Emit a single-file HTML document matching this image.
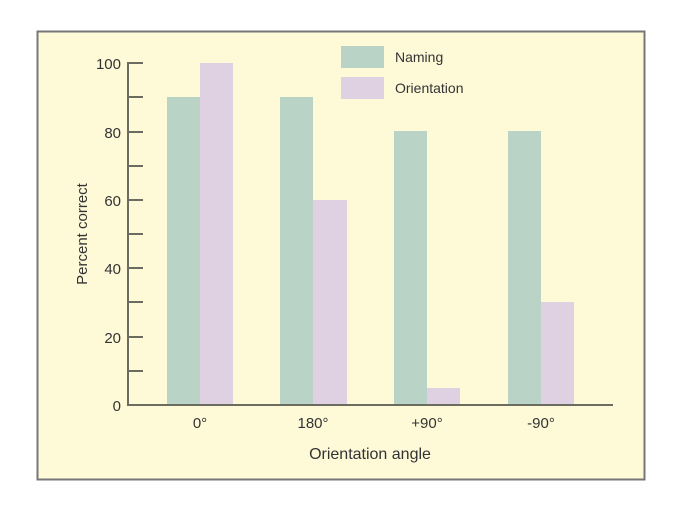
<!DOCTYPE html>
<html><head><style>
html,body{margin:0;padding:0;background:#fff;}
svg{display:block;}
text{font-family:"Liberation Sans",sans-serif;fill:#333;}
</style></head><body>
<svg width="680" height="511" xmlns="http://www.w3.org/2000/svg">
<rect x="37.5" y="31.5" width="607" height="448" fill="#fefad8" stroke="#777" stroke-width="2"/>
<!-- bars -->
<g fill="#b9d4c6">
<rect x="167" y="97" width="33" height="308"/>
<rect x="280" y="97" width="33" height="308"/>
<rect x="394" y="131" width="33" height="274"/>
<rect x="508" y="131" width="33" height="274"/>
</g>
<g fill="#e0d1e2">
<rect x="200" y="63" width="33" height="342"/>
<rect x="313" y="200" width="34" height="205"/>
<rect x="427" y="388" width="33" height="17"/>
<rect x="541" y="302" width="33" height="103"/>
</g>
<!-- axes -->
<g stroke="#6b6b60" stroke-width="2">
<line x1="128" y1="62" x2="128" y2="406"/>
<line x1="127" y1="405" x2="613" y2="405"/>
<line x1="128" y1="63" x2="143" y2="63"/>
<line x1="128" y1="97" x2="143" y2="97"/>
<line x1="128" y1="132" x2="143" y2="132"/>
<line x1="128" y1="166" x2="143" y2="166"/>
<line x1="128" y1="200" x2="143" y2="200"/>
<line x1="128" y1="234" x2="143" y2="234"/>
<line x1="128" y1="268" x2="143" y2="268"/>
<line x1="128" y1="302" x2="143" y2="302"/>
<line x1="128" y1="337" x2="143" y2="337"/>
<line x1="128" y1="371" x2="143" y2="371"/>
</g>
<g font-size="15" text-anchor="end">
<text x="121" y="69">100</text>
<text x="121" y="138">80</text>
<text x="121" y="206">60</text>
<text x="121" y="274">40</text>
<text x="121" y="343">20</text>
<text x="121" y="411">0</text>
</g>
<g font-size="15" text-anchor="middle">
<text x="200" y="428">0°</text>
<text x="313" y="428">180°</text>
<text x="427" y="428">+90°</text>
<text x="541" y="428">-90°</text>
<text x="370" y="459" font-size="16">Orientation angle</text>
<text transform="translate(87,234) rotate(-90)" font-size="15">Percent correct</text>
</g>
<rect x="341" y="46" width="43" height="22" fill="#b9d4c6"/>
<rect x="341" y="77" width="43" height="22" fill="#e0d1e2"/>
<text x="395" y="62" font-size="14">Naming</text>
<text x="395" y="93" font-size="14">Orientation</text>
</svg>
</body></html>
